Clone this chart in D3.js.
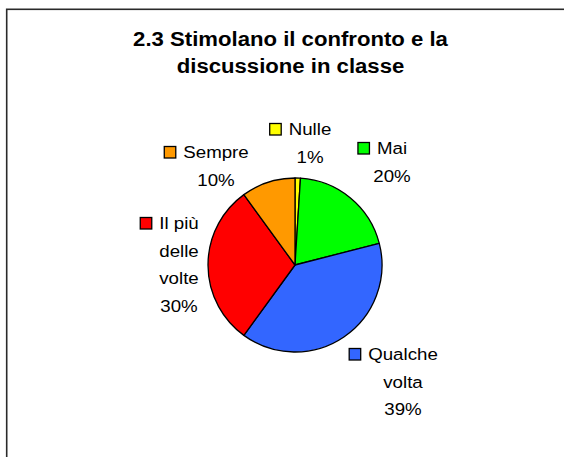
<!DOCTYPE html>
<html>
<head>
<meta charset="utf-8">
<script src="https://cdn.jsdelivr.net/npm/d3@7"></script>
<style>
	body { margin: 0; background: #fff; }
	svg { display: block; }
	text { font-family: "Liberation Sans", Arial, sans-serif; fill: #000; }
</style>
</head>
<body>
<div id="chart"></div>
<script>
// chart data
var categories = ["Nulle", "Mai", "Qualche volta", "Il più delle volte", "Sempre"];
var values = [1, 20, 39, 30, 10];
var colors = ["#FFFF00", "#00FF00", "#3366FF", "#FF0000", "#FF9900"];
// how the category names wrap in the data labels
var labelLines = [["Nulle"], ["Mai"], ["Qualche", "volta"], ["Il più", "delle", "volte"], ["Sempre"]];
var titleLines = ["2.3 Stimolano il confronto e la", "discussione in classe"];

// layout
var width = 564, height = 457;
var cx = 295, cy = 265, radius = 87;
var lineHeight = 27.5;
var textStretch = 1.1;
var boxSize = 11.5;
// data label anchors (centre of text, first baseline) relative to pie centre
var labelOffsets = [[15, -130], [97, -111], [108, 95], [-116, -36], [-79, -107]];

var svg = d3.select("#chart").append("svg")
	.attr("width", width)
	.attr("height", height);

// chart area border (right and bottom edges are outside the window)
svg.append("rect")
	.attr("x", 6.7).attr("y", 9.3)
	.attr("width", width + 20).attr("height", height + 20)
	.attr("fill", "#fff")
	.attr("stroke", "#2a2a2a")
	.attr("stroke-width", 1.6);

// title
svg.selectAll("text.title")
	.data(titleLines)
	.enter()
	.append("text")
	.attr("class", "title")
	.attr("text-anchor", "middle")
	.attr("transform", function(d, i) { return "translate(290.5," + (46 + i * 27) + ") scale(1.08,1)"; })
	.style("font-size", "20.5px")
	.style("font-weight", "bold")
	.text(function(d) { return d; });

// pie
var pie = d3.pie().sort(null).value(function(d) { return d; });
var arc = d3.arc().innerRadius(0).outerRadius(radius);
var arcs = pie(values);

var g = svg.append("g").attr("transform", "translate(" + cx + "," + cy + ")");
g.selectAll("path")
	.data(arcs)
	.enter()
	.append("path")
	.attr("d", arc)
	.attr("fill", function(d, i) { return colors[i]; })
	.attr("stroke", "#000")
	.attr("stroke-width", 1.3)
	.attr("stroke-linejoin", "round");

// data labels: category lines + percentage, legend key before first line
arcs.forEach(function(a, i) {
	var lx = cx + labelOffsets[i][0];
	var ly = cy + labelOffsets[i][1];
	var lines = labelLines[i].concat([values[i] + "%"]);
	var lg = svg.append("g");
	var texts = lg.selectAll("text")
		.data(lines)
		.enter()
		.append("text")
		.attr("text-anchor", "middle")
		.attr("transform", function(d, j) { return "translate(" + lx + "," + (ly + j * lineHeight) + ") scale(" + textStretch + ",1)"; })
		.style("font-size", "17px")
		.text(function(d) { return d; });
	var firstW = texts.node().getComputedTextLength() * textStretch;
	lg.append("rect")
		.attr("x", lx - firstW / 2 - 7.5 - boxSize)
		.attr("y", ly - boxSize)
		.attr("width", boxSize)
		.attr("height", boxSize)
		.attr("fill", colors[i])
		.attr("stroke", "#000")
		.attr("stroke-width", 1.3);
});
</script>
</body>
</html>
